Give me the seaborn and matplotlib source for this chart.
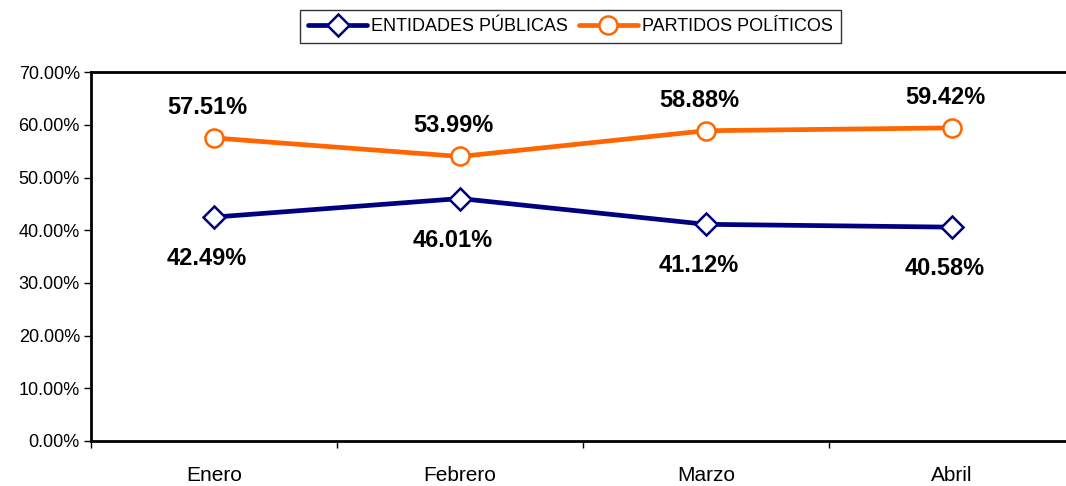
import matplotlib
matplotlib.use("Agg")
import matplotlib.pyplot as plt
import seaborn as sns
import pandas as pd
from matplotlib.ticker import FuncFormatter, FixedLocator

meses = ["Enero", "Febrero", "Marzo", "Abril"]
entidades = [42.49, 46.01, 41.12, 40.58]
partidos = [57.51, 53.99, 58.88, 59.42]

sns.set_theme(style="white")
plt.rcParams['font.family'] = ['Liberation Sans', 'DejaVu Sans']

fig = plt.figure(figsize=(10.66, 4.86), dpi=100)
ax = fig.add_axes([0.0854, 0.0926, 0.923, 0.759])

df = pd.DataFrame({"Mes": meses, "ENTIDADES PÚBLICAS": entidades,
                   "PARTIDOS POLÍTICOS": partidos})

sns.lineplot(data=df, x="Mes", y="ENTIDADES PÚBLICAS", ax=ax, color="#000080",
             linewidth=3.4, marker="D", markersize=11, markerfacecolor="white",
             markeredgecolor="#000080", markeredgewidth=1.8,
             label="ENTIDADES PÚBLICAS")
sns.lineplot(data=df, x="Mes", y="PARTIDOS POLÍTICOS", ax=ax, color="#FF6600",
             linewidth=3.4, marker="o", markersize=13, markerfacecolor="white",
             markeredgecolor="#FF6600", markeredgewidth=1.8,
             label="PARTIDOS POLÍTICOS")

for i, v in enumerate(partidos):
    ax.annotate(f"{v:.2f}%", (i, v), xytext=(-5, 22), textcoords="offset points",
                ha="center", va="center", fontsize=17, fontweight="bold", color="black")
for i, v in enumerate(entidades):
    ax.annotate(f"{v:.2f}%", (i, v), xytext=(-5, -30), textcoords="offset points",
                ha="center", va="center", fontsize=17, fontweight="bold", color="black")

ax.set_xlim(-0.5, 3.5)
ax.set_ylim(0, 70)
ax.set_yticks(range(0, 71, 10))
ax.yaxis.set_major_formatter(FuncFormatter(lambda y, _: f"{y:.2f}%"))
ax.tick_params(axis="y", which="major", left=True, length=5, width=1, labelsize=13,
               color="black", labelcolor="black", pad=3)

ax.set_xticks(range(len(meses)))
ax.set_xticklabels(meses)
ax.tick_params(axis="x", which="major", bottom=False, labelsize=15, pad=12,
               labelcolor="black")
ax.xaxis.set_minor_locator(FixedLocator([-0.5, 0.5, 1.5, 2.5, 3.5]))
ax.tick_params(axis="x", which="minor", bottom=True, length=5, width=1, color="black")

ax.set_xlabel("")
ax.set_ylabel("")
ax.grid(False)
for s in ax.spines.values():
    s.set_color("black")
    s.set_linewidth(2)

leg = ax.legend(loc="lower center", bbox_to_anchor=(0.487, 1.079), ncol=2,
                frameon=True, fancybox=False, handlelength=3.3,
                handletextpad=0.2, columnspacing=0.6, borderpad=0.45,
                borderaxespad=0,
                prop={'family': ['Liberation Sans', 'DejaVu Sans'], 'size': 13})
leg.get_frame().set_edgecolor("black")
leg.get_frame().set_linewidth(1)
for t in leg.get_texts():
    t.set_color("black")

fig.savefig("out.png", dpi=100)
